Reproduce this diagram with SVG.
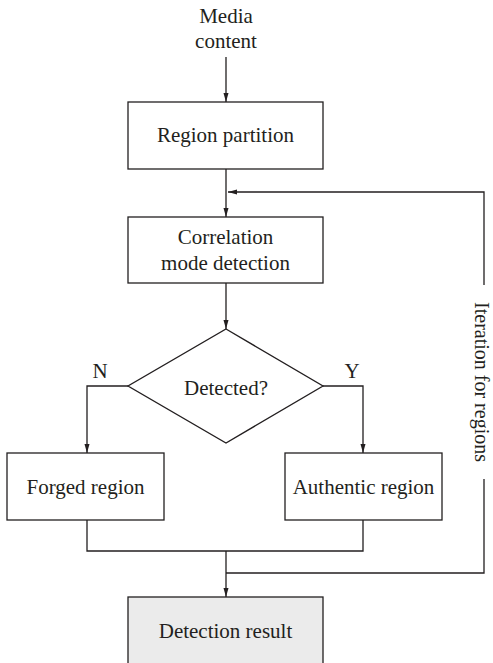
<svg xmlns="http://www.w3.org/2000/svg" width="493" height="663" viewBox="0 0 493 663">
  <style>
    .box { fill: #ffffff; stroke: #231f20; stroke-width: 1.3; }
    .result { fill: #ebebeb; stroke: #231f20; stroke-width: 1.3; }
    .wire { fill: none; stroke: #231f20; stroke-width: 1.3; }
    .lbl { font-family: "Liberation Serif", "Times New Roman", serif; font-size: 21px; fill: #231f20; text-anchor: middle; }
    .side { font-size: 20px; }
  </style>
  <defs>
    <marker id="arrow" markerUnits="userSpaceOnUse" markerWidth="10" markerHeight="6" refX="9" refY="3" orient="auto">
      <path d="M0,0.5 L9,3 L0,5.5 z" fill="#231f20"/>
    </marker>
  </defs>

  <!-- input label -->
  <g id="input">
    <text class="lbl" x="226" y="23">Media</text>
    <text class="lbl" x="226" y="48">content</text>
  </g>

  <g id="region-partition">
    <rect class="box" x="128" y="102" width="195" height="67"/>
    <text class="lbl" x="225.5" y="142">Region partition</text>
  </g>

  <g id="correlation">
    <rect class="box" x="128" y="217" width="195" height="66"/>
    <text class="lbl" x="225.5" y="244">Correlation</text>
    <text class="lbl" x="225.5" y="270">mode detection</text>
  </g>

  <g id="decision">
    <polygon class="box" points="226,329 323,386 226,443 128,386"/>
    <text class="lbl" x="226" y="395">Detected?</text>
    <text class="lbl" x="100" y="378">N</text>
    <text class="lbl" x="352" y="378">Y</text>
  </g>

  <g id="forged">
    <rect class="box" x="7" y="453" width="157" height="67"/>
    <text class="lbl" x="85.5" y="494">Forged region</text>
  </g>

  <g id="authentic">
    <rect class="box" x="285" y="453" width="157" height="67"/>
    <text class="lbl" x="363.5" y="494">Authentic region</text>
  </g>

  <g id="result">
    <rect class="result" x="128" y="597" width="195" height="80"/>
    <text class="lbl" x="225.5" y="638">Detection result</text>
  </g>

  <!-- label on the loop-back line, read top to bottom -->
  <g id="loop-label">
    <text class="lbl side" transform="translate(475,382) rotate(90)">Iteration for regions</text>
  </g>

  <g id="connectors">
    <path class="wire" d="M226,57 V102" marker-end="url(#arrow)"/>
    <path class="wire" d="M226,169 V217" marker-end="url(#arrow)"/>
    <path class="wire" d="M484,285 V192 H228" marker-end="url(#arrow)"/>
    <path class="wire" d="M226,283 V329" marker-end="url(#arrow)"/>
    <path class="wire" d="M128,386 H87 V453" marker-end="url(#arrow)"/>
    <path class="wire" d="M323,386 H363 V453" marker-end="url(#arrow)"/>
    <path class="wire" d="M87,520 V551 H363 V520"/>
    <path class="wire" d="M226,551 V597" marker-end="url(#arrow)"/>
    <path class="wire" d="M226,573 H484 V479"/>
  </g>
</svg>
